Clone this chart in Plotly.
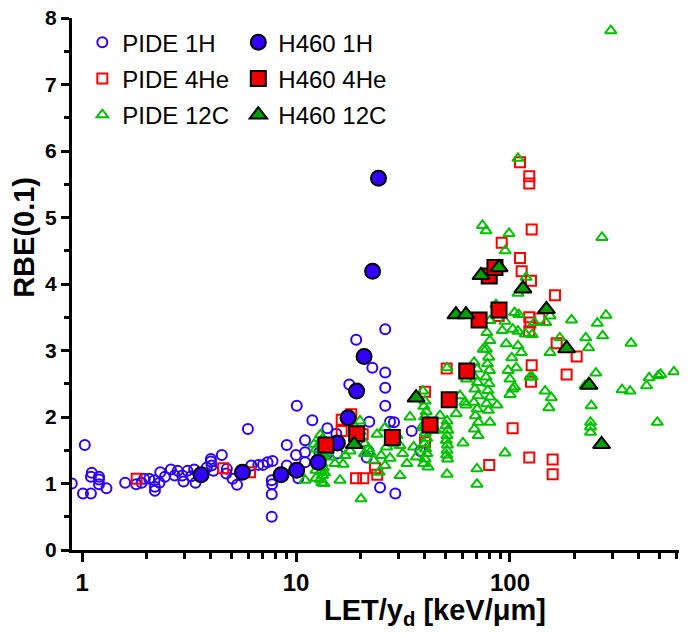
import plotly.graph_objects as go

# ---------------- data ----------------
pide_1h_let = [0.895, 1.03, 1.01, 1.10, 1.11, 1.10, 1.20, 1.20, 1.20, 1.30, 1.59, 1.79, 1.90, 1.95, 2.06,
               2.18, 2.19, 2.19, 2.30, 2.32, 2.44, 2.60, 2.71, 2.80, 2.94, 2.98, 3.11, 3.24, 3.34, 3.39,
               3.83, 4.00, 4.00, 4.03, 4.11, 4.50, 4.72, 4.75, 5.05, 5.30, 5.96, 6.18, 6.67, 7.01, 7.36,
               7.77, 7.70, 7.73, 7.70, 7.70, 9.05, 9.05, 10.0, 10.08, 10.25, 11.02, 11.02, 11.02, 11.92,
               12.85, 14.01, 15.43, 15.63, 13.92, 17.74, 19.11, 22.00, 22.73, 24.70, 26.12, 26.12, 26.12,
               26.12, 27.50, 28.71, 29.11, 34.73, 38.09, 21.40, 21.8]
pide_1h_rbe = [1.00, 1.58, 0.85, 0.85, 1.16, 1.10, 1.10, 1.06, 0.99, 0.93, 1.01, 0.99, 1.01, 1.07, 1.07,
               1.05, 0.95, 0.89, 1.01, 1.17, 1.10, 1.21, 1.12, 1.19, 1.12, 1.03, 1.19, 1.11, 1.21, 1.01,
               1.24, 1.37, 1.33, 1.27, 1.19, 1.43, 1.15, 1.22, 1.07, 0.98, 1.82, 1.27, 1.28, 1.28, 1.32,
               1.34, 1.05, 0.99, 0.84, 0.50, 1.58, 1.27, 1.43, 2.17, 1.08, 1.65, 1.47, 1.32, 1.95,
               1.47, 1.83, 1.75, 1.45, 1.44, 2.49, 3.16, 1.93, 2.74, 0.94, 3.32, 2.67, 2.44,
               2.17, 1.93, 1.92, 0.85, 1.79, 1.49, 1.39, 1.49]

pide_4he_let = [1.80, 4.57, 6.10, 16.35, 18.13, 16.35, 20.49, 19.07, 20.63, 23.4, 23.97,
                40.1, 40.1, 50.6, 80.0, 102.9, 123.1, 158.3, 158.3,
                111.4, 123.1, 123.1, 126.3, 91.5, 111.4, 113.4, 125.4, 162.3, 88.6, 123.1, 124.5,
                137.1, 123.1, 165.3, 205.0, 126.3, 184.0, 125.4]
pide_4he_rbe = [1.07, 1.23, 1.17, 1.96, 2.04, 1.79, 1.74, 1.08, 1.08, 1.23, 1.13,
                2.38, 1.62, 2.73, 1.28, 1.83, 1.39, 1.36, 1.14,
                5.83, 5.62, 5.51, 4.82, 4.62, 4.39, 4.19, 4.05, 3.83, 3.52, 3.50, 3.42,
                3.48, 3.29, 3.11, 2.91, 2.78, 2.64, 2.53]

pide_12c_let = [11.02, 12.14, 12.4, 12.4, 12.4, 12.4,
                13.0, 13.2, 13.0, 13.3, 13.1, 13.3, 13.0, 13.2, 13.4, 13.1, 13.3, 13.0, 13.2, 13.5, 13.6, 13.6,
                14.4, 14.8, 15.2,
                16.05, 16.58, 16.94, 17.88, 18.87, 19.91, 19.91, 20.13, 20.9, 21.0, 21.8, 22.17, 23.0, 23.9,
                24.43, 25.0, 26.06, 26.06, 26.5, 27.5, 28.5, 29.65, 30.62, 30.62, 31.5, 33.0, 34.1, 35.5, 36.5,
                39.2,
                39.2, 40.1, 39.6, 40.6, 39.9, 40.4, 39.7, 40.2, 40.8, 39.8, 40.3, 40.9, 40.1, 39.5, 41.4,
                47.1, 45.0,
                50.8, 50.8, 50.3, 51.2, 50.8, 50.4, 51.0, 50.8, 50.6, 51.1, 50.8,
                58.4, 62.3, 60.3, 62.6, 61.6, 56.0,
                68.0, 70.1, 67.5, 70.5, 68.5, 71.0, 67.8, 70.3, 69.0, 71.2, 68.2, 71.0, 70.1, 70.1,
                78.0, 80.6, 77.5, 79.5, 78.5, 80.2, 77.2, 79.8, 78.8, 80.6, 77.8, 79.2, 80.6, 80.6, 75.0,
                87.0, 87.0, 86.0, 74.4, 77.3,
                94.8, 95.0, 94.8, 99.0, 102.0, 107.0, 109.0, 103.0, 105.0, 109.0, 109.0, 110.0, 109.0, 113.0,
                100.0, 103.0, 100.0, 119.0, 127.0, 130.0, 127.0, 124.0, 92.0, 96.0, 98.0, 105.0, 118.0,
                147.0, 154.0, 146.0, 156.0, 152.0, 154.0, 171.0, 194.0, 226.0, 233.0, 224.0, 252.0, 271.0,
                256.0, 281.0, 269.0, 240.0, 238.0, 238.0, 238.0, 334.0, 364.0, 368.0, 435.0, 447.0, 493.0,
                506.0, 584.0, 488.0, 296.0]
pide_12c_rbe = [1.05, 1.59, 1.52, 1.36, 1.20, 1.08,
                1.73, 1.66, 1.60, 1.54, 1.48, 1.42, 1.36, 1.30, 1.24, 1.18, 1.12, 1.06, 1.01, 1.00, 1.16, 1.45,
                1.40, 1.55, 1.30,
                1.05, 1.29, 1.42, 1.49, 1.85, 1.94, 1.78, 0.77, 1.45, 1.60, 1.52, 1.47, 1.35, 1.74,
                1.17, 1.42, 1.27, 1.84, 1.55, 1.38, 1.60, 1.72, 1.57, 1.12, 1.45, 1.30, 2.00, 1.55, 1.40,
                1.87,
                2.39, 2.24, 2.16, 2.08, 2.00, 1.92, 1.84, 1.76, 1.68, 1.60, 1.52, 1.45, 1.37, 1.30, 1.25,
                2.02, 1.80,
                2.74, 1.94, 1.87, 1.80, 1.72, 1.65, 1.58, 1.50, 1.43, 1.37, 1.14,
                2.32, 2.18, 1.61, 2.57, 2.22, 2.05,
                2.82, 2.72, 2.62, 2.52, 2.42, 2.32, 2.22, 2.12, 2.02, 1.92, 1.82, 1.72, 1.22, 0.99,
                3.27, 3.15, 3.02, 2.90, 2.80, 2.70, 2.60, 2.50, 2.40, 2.30, 2.20, 2.10, 1.92, 3.45, 3.02,
                2.18, 4.23, 3.69, 4.88, 4.80,
                1.46, 4.50, 3.44, 4.76, 2.89, 2.74, 3.07, 3.32, 3.57, 5.89, 3.86, 3.54, 3.29, 2.97,
                2.57, 2.42, 2.34, 4.10, 3.24, 3.42, 2.60, 2.60, 3.30, 3.10, 2.70, 2.45, 3.25,
                3.42, 3.52, 2.39, 2.29, 2.14, 2.97, 3.19, 3.46, 3.19, 3.04, 2.47, 2.66, 3.22,
                3.41, 3.53, 4.70, 2.17, 1.92, 1.85, 1.77, 2.41, 2.39, 3.11, 2.47, 2.59, 2.62,
                2.64, 2.68, 1.92, 7.81]

h460_1h_let = [3.60, 5.62, 8.51, 10.07, 12.7, 15.6, 17.5, 19.2, 20.8, 22.8, 24.3]
h460_1h_rbe = [1.13, 1.17, 1.13, 1.20, 1.32, 1.61, 1.99, 2.39, 2.91, 4.19, 5.59]

h460_4he_let = [13.8, 19.2, 28.2, 42.3, 52.0, 62.8, 71.7, 88.9, 80.0, 85.1]
h460_4he_rbe = [1.58, 1.75, 1.69, 1.88, 2.26, 2.69, 3.46, 3.61, 4.12, 4.25]

h460_12c_let = [18.7, 36.4, 55.9, 62.3, 73.2, 88.9, 115.0, 148.0, 184.0, 234.0, 268.0]
h460_12c_rbe = [1.59, 2.29, 3.54, 3.54, 4.13, 4.25, 3.93, 3.62, 3.03, 2.48, 1.59]

x_tick_vals = [1, 10, 100]
x_tick_text = ["1", "10", "100"]
x_minor_vals = [2, 3, 4, 5, 6, 7, 8, 9, 20, 30, 40, 50, 60, 70, 80, 90, 200, 300, 400, 500, 600]

x_title = "<b>LET/y<sub>d</sub> [keV/μm]</b>"
y_title = "<b>RBE(0.1)</b>"

# ---------------- figure ----------------
BLUE = "#2a00ff"
RED = "#ff0000"
GREEN = "#00c000"
FONT = "Arial, Liberation Sans, sans-serif"

fig = go.Figure()

def open_trace(x, y, name, symbol, color, size):
    return go.Scatter(x=x, y=y, mode="markers", name=name, legend="legend", legendgroup=name,
                      marker=dict(symbol=symbol, size=size, color=color,
                                  line=dict(color=color, width=2)))

def filled_trace(x, y, name, symbol, color, size):
    return go.Scatter(x=x, y=y, mode="markers", name=name, legend="legend2", legendgroup=name,
                      marker=dict(symbol=symbol, size=size, color=color,
                                  line=dict(color="black", width=2)))

fig.add_trace(open_trace(pide_1h_let, pide_1h_rbe, "PIDE 1H", "circle-open", BLUE, 10))
fig.add_trace(open_trace(pide_4he_let, pide_4he_rbe, "PIDE 4He", "square-open", RED, 10))
fig.add_trace(open_trace(pide_12c_let, pide_12c_rbe, "PIDE 12C", "triangle-up-open", GREEN, 10))
fig.add_trace(filled_trace(h460_1h_let, h460_1h_rbe, "H460 1H", "circle", "#3300ff", 15))
fig.add_trace(filled_trace(h460_4he_let, h460_4he_rbe, "H460 4He", "square", "#ee0000", 15))
fig.add_trace(filled_trace(h460_12c_let, h460_12c_rbe, "H460 12C", "triangle-up", "#00a000", 15))

legend_common = dict(font=dict(family=FONT, size=24, color="black"),
                     bgcolor="rgba(0,0,0,0)", tracegroupgap=2, itemsizing="trace",
                     orientation="v", yanchor="top", xanchor="left")

fig.update_layout(
    width=696, height=638,
    margin=dict(l=72, r=17, t=18, b=88),
    paper_bgcolor="white", plot_bgcolor="white",
    font=dict(family=FONT, color="black"),
    showlegend=True,
    legend=dict(x=0.017, y=0.996, **legend_common),
    legend2=dict(x=0.274, y=0.996, **legend_common),
    xaxis=dict(
        type="log", range=[-0.047, 2.79], automargin=False,
        tickmode="array", tickvals=x_tick_vals, ticktext=x_tick_text,
        ticks="outside", ticklen=9, tickwidth=2.5, tickcolor="black",
        showline=True, linewidth=3, linecolor="black", showgrid=False, zeroline=False,
        tickfont=dict(family=FONT, size=24, color="black", weight="bold"),
        minor=dict(tickmode="array", tickvals=x_minor_vals, ticks="outside",
                   ticklen=6, tickwidth=2.5, tickcolor="black", showgrid=False),
    ),
    yaxis=dict(
        range=[0, 8], tickmode="linear", tick0=0, dtick=1, automargin=False,
        ticks="outside", ticklen=8, tickwidth=2.5, tickcolor="black",
        showline=True, linewidth=3, linecolor="black", showgrid=False, zeroline=False,
        tickfont=dict(family=FONT, size=21, color="black", weight="bold"),
        minor=dict(dtick=0.5, ticks="outside", ticklen=5, tickwidth=2.5,
                   tickcolor="black", showgrid=False),
    ),
    annotations=[
        dict(text=x_title, xref="paper", yref="paper", x=0.598, y=-0.117,
             xanchor="center", yanchor="middle", showarrow=False,
             font=dict(family=FONT, size=29, color="black")),
        dict(text=y_title, xref="paper", yref="paper", x=-0.078, y=0.588,
             xanchor="center", yanchor="middle", showarrow=False, textangle=-90,
             font=dict(family=FONT, size=29, color="black")),
    ],
)

fig.write_html("out.html", config={"displayModeBar": False},
               post_script="document.body.style.margin='0';")
